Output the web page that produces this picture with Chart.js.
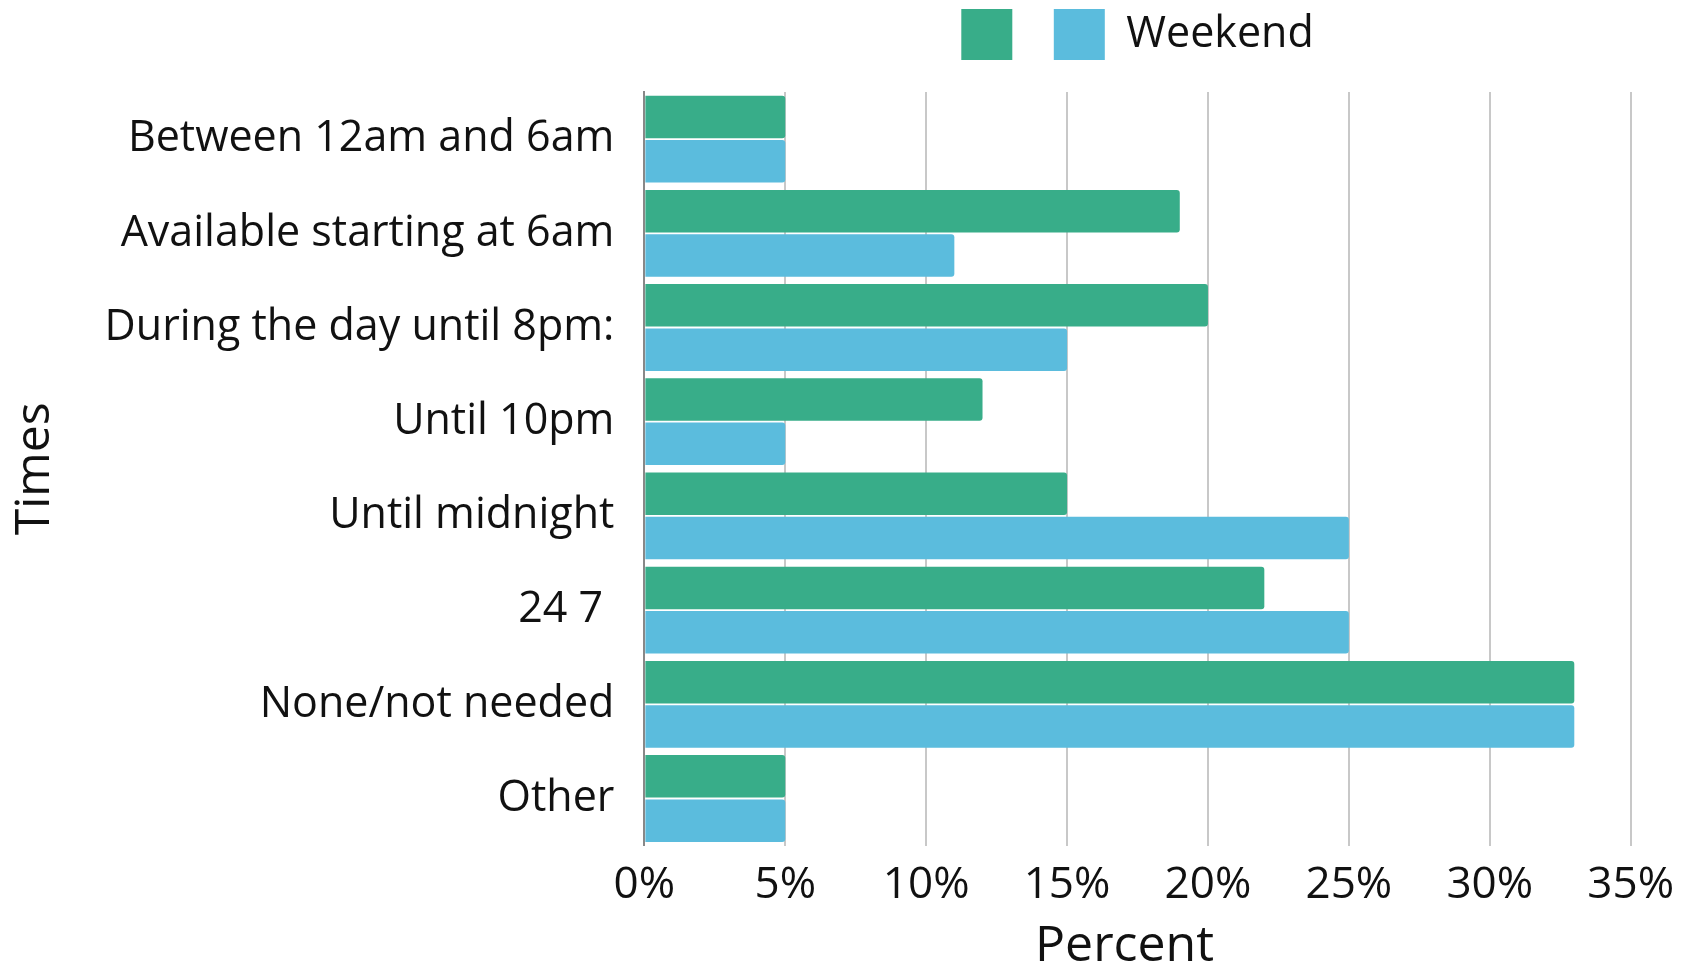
<!DOCTYPE html>
<html lang="en">
<head>
  <meta charset="UTF-8" />
  <title>Times</title>
  <style>
    html, body { margin: 0; padding: 0; background: #fff; }
    #wrap { width: 1690px; height: 967px; }
  </style>
</head>
<body>
  <div id="wrap"><canvas id="chart" width="1690" height="967"></canvas></div>

  <script src="https://cdn.jsdelivr.net/npm/chart.js"></script>
  <script>
    const categories = ['Between 12am and 6am', 'Available starting at 6am', 'During the day until 8pm:',
      'Until 10pm', 'Until midnight', '24 7 ', 'None/not needed', 'Other'];
    const weekdayValues = [5, 19, 20, 12, 15, 22, 33, 5];
    const weekendValues = [5, 11, 15, 5, 25, 25, 33, 5];
    const seriesLabels = ['', 'Weekend'];

    const fontFamily = '"Open Sans", Lato, sans-serif';

    // push the plot a bit further below the legend
    const legendGap = {
      id: 'legendGap',
      beforeInit(chart) {
        const fit = chart.legend.fit;
        chart.legend.fit = function () {
          fit.bind(chart.legend)();
          this.height += 22;
        };
      }
    };

    new Chart(document.getElementById('chart').getContext('2d'), {
      type: 'bar',
      data: {
        labels: categories,
        datasets: [
          { label: seriesLabels[0], data: weekdayValues, backgroundColor: '#38ad89', borderRadius: 3, borderSkipped: 'start' },
          { label: seriesLabels[1], data: weekendValues, backgroundColor: '#5bbcdd', borderRadius: 3, borderSkipped: 'start' }
        ]
      },
      options: {
        indexAxis: 'y',
        responsive: false,
        animation: false,
        categoryPercentage: 0.94,
        barPercentage: 0.96,
        layout: { padding: { left: 3, right: -2, top: -11, bottom: 0 } },
        plugins: {
          tooltip: { enabled: false },
          legend: {
            position: 'top',
            fullSize: false,
            labels: {
              boxWidth: 51, boxHeight: 51, padding: 20,
              color: '#111',
              font: { family: fontFamily, size: 43 }
            }
          }
        },
        scales: {
          x: {
            min: 0, max: 35,
            ticks: {
              stepSize: 5,
              color: '#111',
              padding: 16,
              font: { family: fontFamily, size: 44, lineHeight: 1.1 },
              callback: v => v + '%'
            },
            grid: { color: '#c8c8c8', lineWidth: 2, drawTicks: false },
            border: { display: false },
            title: { display: true, text: 'Percent  ', color: '#111', font: { family: fontFamily, size: 50, lineHeight: 0.82 }, padding: { top: 0, bottom: 0 } }
          },
          y: {
            ticks: {
              color: '#111',
              padding: 30,
              font: { family: fontFamily, size: 43 }
            },
            grid: { display: false, drawTicks: false },
            border: { display: true, color: '#888', width: 2 },
            title: { display: true, text: 'Times', color: '#111', font: { family: fontFamily, size: 48 }, padding: { bottom: 10 } }
          }
        }
      },
      plugins: [legendGap]
    });
  </script>
</body>
</html>
